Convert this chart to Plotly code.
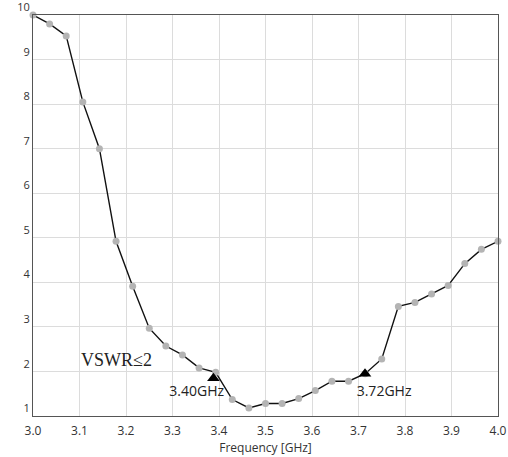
import plotly.graph_objects as go

n_points = 29
freq_ghz = [3.0 + i / 28 for i in range(n_points)]
vswr = [10.0, 9.8, 9.53, 8.05, 7.0, 4.92, 3.91, 2.97, 2.57, 2.37, 2.08, 1.98,
        1.37, 1.18, 1.28, 1.28, 1.39, 1.57, 1.78, 1.78, 1.95, 2.28, 3.46, 3.55,
        3.74, 3.93, 4.42, 4.74, 4.92]

marker_x = [3.388, 3.714]
marker_y = [1.85, 1.95]
marker_labels = ["3.40GHz", "3.72GHz"]
label_x = [3.352, 3.755]
label_y = [1.52, 1.52]

x_ticks = [3.0, 3.1, 3.2, 3.3, 3.4, 3.5, 3.6, 3.7, 3.8, 3.9, 4.0]
x_tick_labels = ["3.0", "3.1", "3.2", "3.3", "3.4", "3.5", "3.6", "3.7", "3.8", "3.9", "4.0"]
y_ticks = [1, 2, 3, 4, 5, 6, 7, 8, 9, 10]

fig = go.Figure()
fig.add_trace(go.Scatter(
    x=freq_ghz, y=vswr, mode="lines+markers",
    line=dict(color="#111111", width=1.4),
    marker=dict(color="#b4b4b4", size=7),
    cliponaxis=False, showlegend=False))
fig.add_trace(go.Scatter(
    x=marker_x, y=marker_y, mode="markers",
    marker=dict(symbol="triangle-up", color="black", size=11),
    cliponaxis=False, showlegend=False))
fig.add_trace(go.Scatter(
    x=label_x, y=label_y, mode="text", text=marker_labels,
    textfont=dict(family="Open Sans", size=14, color="#222222"),
    cliponaxis=False, showlegend=False))

fig.add_annotation(x=3.179, y=2.256, text="VSWR≤2", showarrow=False,
                   font=dict(family="Liberation Serif", size=18, color="#222222"))

fig.update_layout(
    width=508, height=457,
    margin=dict(l=33, r=10, t=15, b=41, autoexpand=False),
    paper_bgcolor="white", plot_bgcolor="white",
    font=dict(family="Open Sans", size=12, color="#333333"),
)
fig.update_xaxes(
    range=[3.0, 4.0], tickvals=x_ticks, ticktext=x_tick_labels,
    showgrid=True, gridcolor="#dcdcdc", gridwidth=1,
    showline=True, linecolor="#555555", linewidth=1, mirror=True,
    zeroline=False, ticks="", ticklabelstandoff=4, ticklabeloverflow="allow",
    title=dict(text="Frequency [GHz]", standoff=2, font=dict(size=12)),
)
fig.update_yaxes(
    range=[1, 10], tickvals=y_ticks,
    showgrid=True, gridcolor="#dcdcdc", gridwidth=1,
    showline=True, linecolor="#555555", linewidth=1, mirror=True,
    zeroline=False, ticks="", ticklabelposition="outside top",
    ticklabeloverflow="allow", tickfont=dict(size=11),
)

fig.write_html("out.html", config={"displayModeBar": False},
               post_script="document.body.style.margin='0';")
